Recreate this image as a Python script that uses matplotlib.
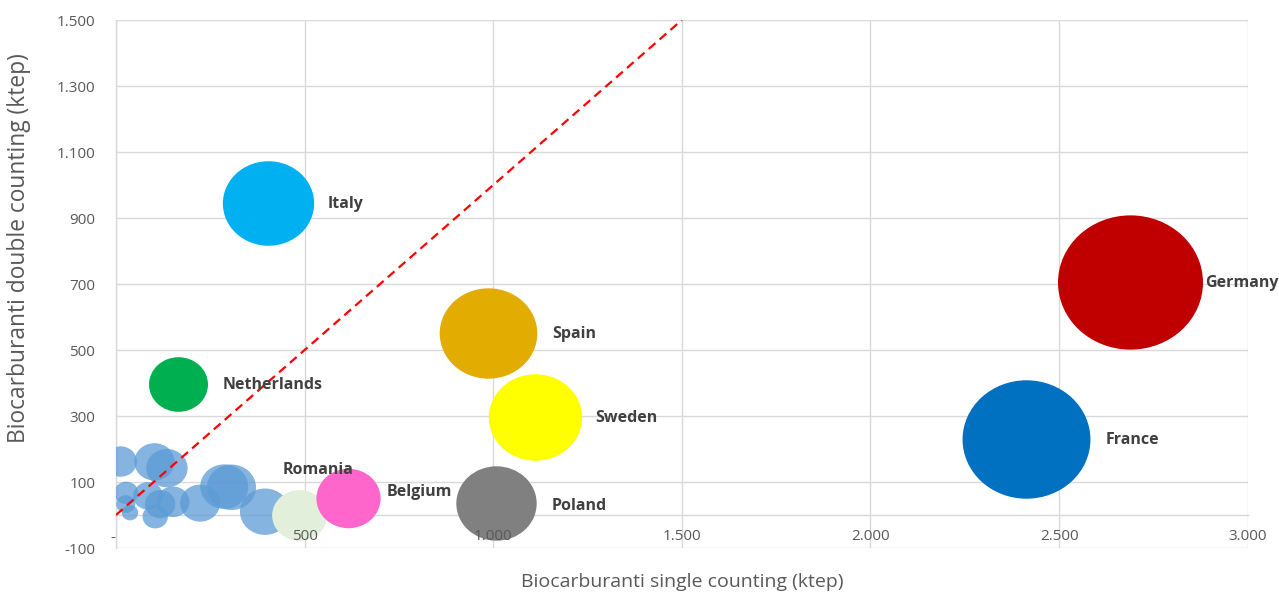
import matplotlib.pyplot as plt
import numpy as np
from matplotlib.path import Path
from matplotlib.ticker import FuncFormatter

# Named countries (single counting ktep, double counting ktep, bubble size)
countries = ["Germany", "France", "Italy", "Spain", "Sweden", "Poland",
             "Netherlands", "Romania", "Belgium"]
single_cnt = [2689, 2412, 402, 986, 1110, 1007, 165, 484, 614]
double_cnt = [706, 230, 944, 552, 297, 36, 397, 0, 52]
bubble_size = [3395, 2642, 1346, 1538, 1407, 1043, 562, 484, 666]
colors = ["#C00000", "#0070C0", "#00B0F0", "#E3AC00", "#FFFF00", "#808080",
          "#00B050", "#E2EFDA", "#FF66CC"]

# Other member states (unlabelled, light blue)
other_single = [12, 102, 135, 287, 306, 223, 151, 117, 85, 27, 26, 37, 104, 395]
other_double = [162, 161, 142, 86, 84, 36, 40, 33, 58, 67, 33, 7, -5, 10]
other_size = [174, 263, 277, 373, 390, 259, 176, 150, 143, 94, 59, 44, 104, 405]

x_ticks = [0, 500, 1000, 1500, 2000, 2500, 3000]
y_ticks = [-100, 100, 300, 500, 700, 900, 1100, 1300, 1500]

# label offsets from bubble centre, in pixels (dx right, dy up)
label_offsets = {
    "Germany": (75, -1), "France": (80, -1), "Italy": (60, -1),
    "Spain": (64, -1), "Sweden": (61, -1), "Poland": (56, -3),
    "Netherlands": (44, -1), "Romania": (-16, 45), "Belgium": (39, 6),
}

plt.rcParams["font.family"] = ["Open Sans", "DejaVu Sans"]

W, H = 1279, 592
fig = plt.figure(figsize=(W / 100, H / 100), dpi=100)
ax = fig.add_axes([116 / W, 44 / H, (1247.7 - 116) / W, 528 / H])

# ellipse marker (picture is slightly stretched horizontally)
circ = Path.unit_circle()
ell = Path(circ.vertices * np.array([1.08, 1.0]), circ.codes)

max_w_pt = 145 * 0.72
def to_s(sizes):
    return (max_w_pt ** 2) * np.array(sizes, dtype=float) / max(bubble_size)

ax.scatter(other_single, other_double, s=to_s(other_size), marker=ell,
           color="#5B9BD5", alpha=0.75, linewidths=0, zorder=3)

for i, name in enumerate(countries):
    ax.scatter([single_cnt[i]], [double_cnt[i]], s=to_s([bubble_size[i]]),
               marker=ell, color=colors[i], linewidths=0, zorder=4)
    dx, dy = label_offsets[name]
    ax.annotate(name, (single_cnt[i], double_cnt[i]), xytext=(dx, dy),
                textcoords="offset pixels", ha="left", va="center",
                fontsize=11.5, fontweight="bold", color="#404040", zorder=6)

# 1:1 reference line
ax.plot([0, 1500], [0, 1500], color="red", linestyle=(0, (4, 2.5)),
        linewidth=1.6, zorder=5)

ax.set_xlim(0, 3000)
ax.set_ylim(-100, 1500)
ax.set_xticks(x_ticks)
ax.set_yticks(y_ticks)

def fmt(v, pos=None):
    if v == 0:
        return "-"
    return f"{v:,.0f}".replace(",", ".")

ax.yaxis.set_major_formatter(FuncFormatter(fmt))
ax.set_xticklabels([])

# x tick labels sit on top of the bubbles, just under the y=0 axis line
for t in x_ticks:
    ax.annotate(fmt(t), (t, 0), xytext=(-3 if t == 0 else 0, -22),
                textcoords="offset pixels", ha="center", va="center",
                fontsize=11, color="#595959", zorder=7, annotation_clip=False)

ax.grid(True, color="#D9D9D9", linewidth=1.0, zorder=0)
ax.set_axisbelow(True)
for side in ["top", "right"]:
    ax.spines[side].set_visible(False)
ax.spines["bottom"].set_position(("data", 0))
ax.spines["bottom"].set_color("#D9D9D9")
ax.spines["left"].set_color("#D9D9D9")
ax.spines["left"].set_linewidth(1.0)
ax.spines["bottom"].set_linewidth(1.0)

ax.tick_params(axis="both", length=0, labelsize=11, labelcolor="#595959")
ax.tick_params(axis="y", pad=15)

ax.set_xlabel("Biocarburanti single counting (ktep)", fontsize=14, color="#595959")
ax.set_ylabel("Biocarburanti double counting (ktep)", fontsize=16.4, color="#595959")
ax.xaxis.label.set_va("center")
ax.yaxis.label.set_va("center")
ax.xaxis.set_label_coords(0.5, -34 / 528)
ax.yaxis.set_label_coords(-97 / 1131.7, (548 - 248) / 528)

fig.savefig("out.png", dpi=100)
